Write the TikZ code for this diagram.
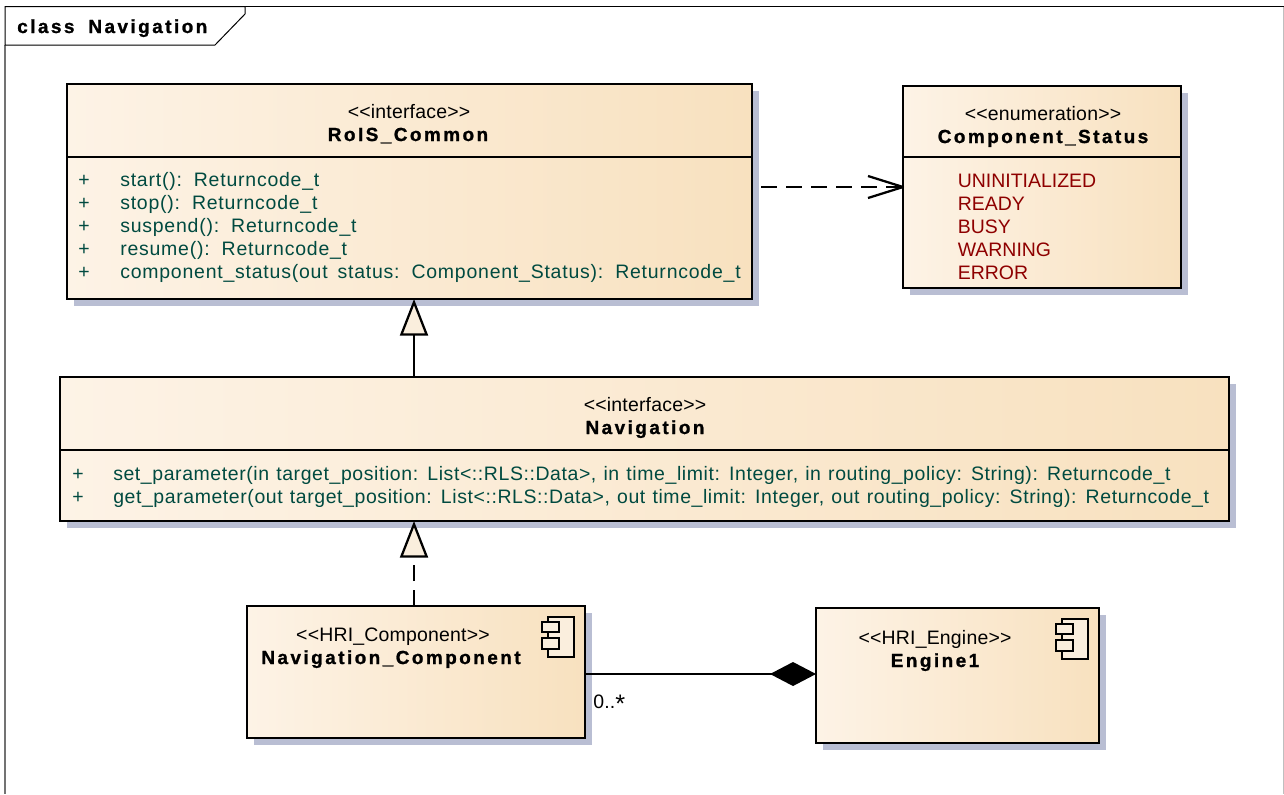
\documentclass[tikz,border=0pt]{standalone}
\usepackage{fontspec}
\setmainfont{Liberation Sans}
\newfontfamily\opsA[LetterSpace=4,WordSpace=1.6]{Liberation Sans}
\newfontfamily\opsB[LetterSpace=3,WordSpace=1.2]{Liberation Sans}
\newfontfamily\ttlf[LetterSpace=13,WordSpace=1.8,FakeBold=1.2]{Liberation Sans Bold}
\usetikzlibrary{arrows.meta,shadows}
\definecolor{gradL}{HTML}{FDF3E6}
\definecolor{gradR}{HTML}{F8E1BF}
\definecolor{shadowc}{HTML}{B9BED3}
\definecolor{opc}{HTML}{004A40}
\definecolor{enumc}{HTML}{8E0000}
\definecolor{headc}{HTML}{FAEEDD}
\newcommand{\txtfont}{\fontsize{14.6pt}{17.25pt}\selectfont}
\newcommand{\stereofont}{\txtfont\addfontfeature{LetterSpace=1}}
\newcommand{\boldfont}{\fontsize{14.2pt}{17.25pt}\selectfont\ttlf}
\newcommand{\opn}{<{}<}
\newcommand{\cls}{>{}>}
\tikzset{
  umlbox/.style={draw=black,line width=1.7pt,left color=gradL,right color=gradR,shading angle=90,
    general shadow={shadow xshift=5.25pt,shadow yshift=-5.25pt,fill=shadowc},
    anchor=north west,inner sep=0pt,outer sep=0pt},
  divider/.style={draw=black,line width=1.7pt},
  conn/.style={draw=black,line width=1.7pt},
  dashedconn/.style={conn,dash pattern=on 12pt off 6.75pt},
  stereo/.style={inner sep=0pt,font=\stereofont,text=black,anchor=base},
  title/.style={inner sep=0pt,font=\boldfont,text=black,anchor=base},
  oplist/.style={inner sep=0pt,font=\txtfont,text=opc,anchor=north west,align=left},
  enumlist/.style={inner sep=0pt,font=\txtfont,text=enumc,anchor=north west,align=left},
  realize/.style={-{Triangle[open,fill=headc,length=27.5pt,width=21pt,line width=1.7pt]}},
  compos/.style={{Diamond[fill=black,length=34.5pt,width=18pt]}-},
}
\newcommand{\umlnode}[6]{\node[umlbox,minimum width={(#4-#2)*0.75pt},minimum height={(#5-#3)*0.75pt},#6] (#1) at (#2,#3) {};}
\newcommand{\compicon}[2]{%
  \draw[black,line width=1.7pt,fill=headc] (#1+6,#2) rectangle (#1+32,#2+40);
  \draw[black,line width=1.7pt,fill=headc] (#1,#2+5) rectangle (#1+17,#2+15);
  \draw[black,line width=1.7pt,fill=headc] (#1,#2+21) rectangle (#1+17,#2+32);
}
\begin{document}
\begin{tikzpicture}[x=0.75pt,y=-0.75pt]
\useasboundingbox (0,0) rectangle (1284,794);
% frame
\draw[black!55,line width=1pt] (5,45) -- (5,794);
\draw[black,line width=0.75pt] (245,6.5) -- (1284,6.5);
\draw[black!25,line width=0.75pt] (1283.5,6.5) -- (1283.5,794);
\draw[black,line width=0.75pt,fill=white] (5,6.5) -- (245,6.5) -- (245,14) -- (215,45) -- (5,45) -- cycle;
\node[title,anchor=base west] (frametitle) at (17,33) {class Navigation};
% boxes
\umlnode{rois}{67}{84}{752}{299}{}
\umlnode{status}{903}{86}{1181}{288}{}
\umlnode{nav}{60}{377}{1229}{521}{}
\umlnode{navc}{247}{606}{585}{738}{}
\umlnode{eng}{816}{608}{1099}{743}{}
% dividers
\draw[divider] (rois.west |- 0,157) -- (rois.east |- 0,157);
\draw[divider] (status.west |- 0,157) -- (status.east |- 0,157);
\draw[divider] (nav.west |- 0,450) -- (nav.east |- 0,450);
% RoIS_Common
\node[stereo] (roisS) at (409,118) {\opn interface\cls};
\node[title] (roisT) at (408,141) {RoIS\_Common};
\node[oplist] (roisP) at (78,175) {+\\+\\+\\+\\+};
\node[oplist,font=\txtfont\opsA] (roisO) at (120,172) {start(): Returncode\_t\\stop(): Returncode\_t\\suspend(): Returncode\_t\\resume(): Returncode\_t\\component\_status(out status: Component\_Status): Returncode\_t};
% Component_Status
\node[stereo] (statS) at (1043,120) {\opn enumeration\cls};
\node[title] (statT) at (1043,143) {Component\_Status};
\node[enumlist] (statE) at (957.5,173.5) {UNINITIALIZED\\READY\\BUSY\\WARNING\\ERROR};
% Navigation
\node[stereo] (navS) at (645,411) {\opn interface\cls};
\node[title] (navT) at (645,434) {Navigation};
\node[oplist] (navP) at (72,469) {+\\+};
\node[oplist,font=\txtfont\opsB] (navO) at (113,466) {set\_parameter(in target\_position: List<::RLS::Data>, in time\_limit: Integer, in routing\_policy: String): Returncode\_t\\get\_parameter(out target\_position: List<::RLS::Data>, out time\_limit: Integer, out routing\_policy: String): Returncode\_t};
% Navigation_Component
\node[stereo] (navcS) at (393,641) {\opn HRI\_Component\cls};
\node[title] (navcT) at (391,664) {Navigation\_Component};
\compicon{542}{617}
% Engine1
\node[stereo] (engS) at (935,644) {\opn HRI\_Engine\cls};
\node[title] (engT) at (935,667) {Engine1};
\compicon{1056}{619}
% connectors
\coordinate (genx) at (414,0);
\coordinate (depstart) at (761,187);
\draw[conn,realize] (nav.north -| genx) -- (rois.south -| genx);
\draw[dashedconn,realize] (navc.north -| genx) -- (nav.south -| genx);
\coordinate (deptip) at (status.west |- depstart);
\draw[dashedconn] (depstart) -- (deptip);
\draw[conn,line join=round] ([xshift=-26.25pt,yshift=8.25pt]deptip) -- (deptip) -- ([xshift=-26.25pt,yshift=-8.25pt]deptip);
\coordinate (compy) at (0,674);
\draw[conn,compos] (eng.west |- compy) -- (navc.east |- compy);
\node[stereo,anchor=base west] (mult) at (593,708) {0..\raisebox{-3.2pt}{\fontsize{19pt}{19pt}\selectfont *}};
\end{tikzpicture}
\end{document}
